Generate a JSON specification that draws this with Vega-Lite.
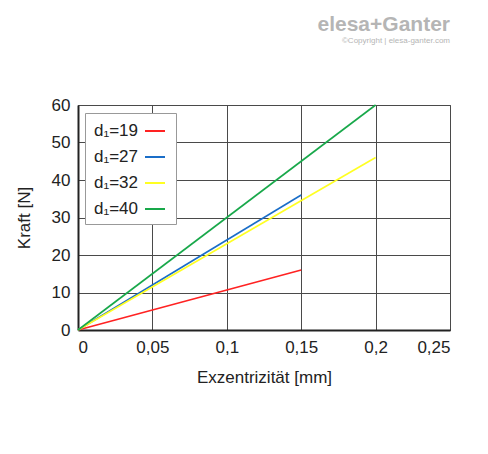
{
  "$schema": "https://vega.github.io/schema/vega-lite/v6.json",
  "autosize": "none",
  "width": 372,
  "height": 225,
  "padding": {"left": 78, "top": 105, "right": 38, "bottom": 124},
  "background": "white",
  "title": {
    "text": "elesa+Ganter",
    "subtitle": "©Copyright | elesa-ganter.com",
    "anchor": "end",
    "offset": 51,
    "font": "Liberation Sans",
    "fontSize": 21,
    "fontWeight": "bold",
    "color": "#b5b5b5",
    "subtitleFont": "Liberation Sans",
    "subtitleFontSize": 8,
    "subtitleColor": "#b5b5b5",
    "subtitlePadding": 2
  },
  "data": {
    "values": [
      {"d": "d₁=19", "x": 0, "y": 0},
      {"d": "d₁=19", "x": 0.15, "y": 16},
      {"d": "d₁=27", "x": 0, "y": 0},
      {"d": "d₁=27", "x": 0.15, "y": 36},
      {"d": "d₁=32", "x": 0, "y": 0},
      {"d": "d₁=32", "x": 0.2, "y": 46},
      {"d": "d₁=40", "x": 0, "y": 0},
      {"d": "d₁=40", "x": 0.2, "y": 60}
    ]
  },
  "mark": {"type": "line", "strokeWidth": 1.6},
  "encoding": {
    "x": {
      "field": "x",
      "type": "quantitative",
      "scale": {"domain": [0, 0.25], "nice": false},
      "axis": {
        "title": "Exzentrizität [mm]",
        "values": [0, 0.05, 0.1, 0.15, 0.2, 0.25],
        "labelExpr": "replace(format(datum.value, ''), '.', ',')",
        "ticks": false,
        "labelPadding": 9,
        "titlePadding": 14
      }
    },
    "y": {
      "field": "y",
      "type": "quantitative",
      "scale": {"domain": [0, 60], "nice": false},
      "axis": {
        "title": "Kraft [N]",
        "values": [0, 10, 20, 30, 40, 50, 60],
        "ticks": false,
        "labelPadding": 8,
        "titlePadding": 18
      }
    },
    "color": {
      "field": "d",
      "type": "nominal",
      "scale": {
        "domain": ["d₁=19", "d₁=27", "d₁=32", "d₁=40"],
        "range": ["#ff2222", "#1a6ec8", "#ffff22", "#18a84a"]
      },
      "legend": {
        "title": null,
        "orient": "none",
        "legendX": 7,
        "legendY": 8,
        "symbolType": "stroke",
        "symbolSize": 400,
        "symbolStrokeWidth": 2,
        "symbolOffset": 52,
        "labelOffset": -72,
        "labelFontSize": 17,
        "labelFont": "Liberation Sans",
        "labelColor": "#222",
        "rowPadding": 7,
        "padding": 7,
        "fillColor": "white",
        "strokeColor": "#999"
      }
    }
  },
  "config": {
    "font": "Liberation Sans",
    "view": {"stroke": "#555", "strokeWidth": 1},
    "axis": {
      "grid": true,
      "gridColor": "#4a4a4a",
      "gridOpacity": 1,
      "gridWidth": 1,
      "domainColor": "#222",
      "domainWidth": 2,
      "labelFontSize": 17,
      "labelColor": "#222",
      "titleFontSize": 17,
      "titleFontWeight": "normal",
      "titleColor": "#222",
      "labelFont": "Liberation Sans",
      "titleFont": "Liberation Sans"
    }
  }
}
